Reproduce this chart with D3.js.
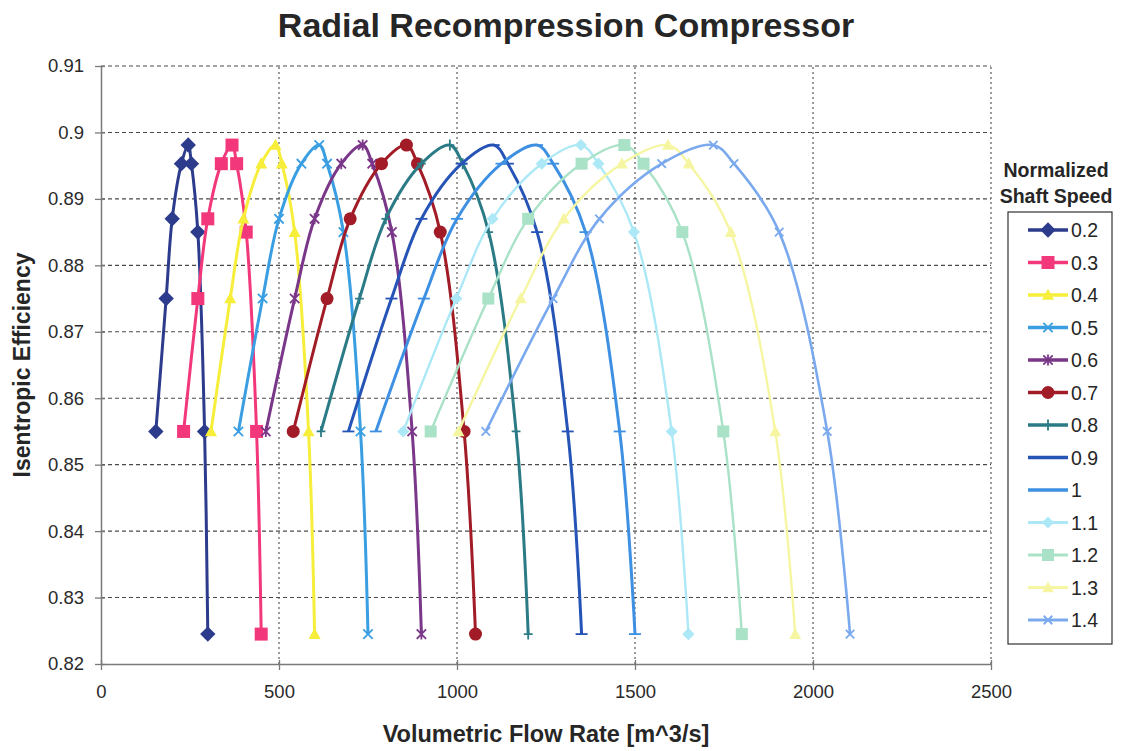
<!DOCTYPE html>
<html><head><meta charset="utf-8">
<script src="https://cdn.jsdelivr.net/npm/d3@7"></script>
<style>
body{margin:0;background:#fff}
svg{font-family:"Liberation Sans",Arial,Helvetica,sans-serif}
</style>
</head><body>
<svg id="chart" width="1122" height="751"></svg>
<script>
// ---------- data ----------
const speeds = ["0.2","0.3","0.4","0.5","0.6","0.7","0.8","0.9","1","1.1","1.2","1.3","1.4"];
const efficiency = [0.855, 0.875, 0.887, 0.8953, 0.8981, 0.8953, 0.885, 0.855, 0.8245];
const flow02 = [154, 183, 200, 226, 245, 254, 272, 291, 300];
const flow03 = [232, 272, 300, 338, 368, 381, 408, 437, 450];
const flow04 = [309, 363, 400, 450, 490, 508, 544, 583, 600];
const flow05 = [386, 454, 500, 563, 613, 635, 681, 729, 750];
const flow06 = [463, 544, 600, 675, 735, 762, 817, 874, 900];
const flow07 = [540, 635, 700, 788, 858, 889, 953, 1020, 1052];
const flow08 = [618, 726, 800, 900, 980, 1016, 1089, 1166, 1200];
const flow09 = [695, 816, 900, 1013, 1103, 1143, 1225, 1311, 1350];
const flow10 = [772, 907, 1000, 1125, 1225, 1270, 1361, 1457, 1500];
const flow11 = [849, 998, 1100, 1238, 1348, 1397, 1497, 1603, 1650];
const flow12 = [926, 1088, 1200, 1350, 1470, 1524, 1633, 1748, 1800];
const flow13 = [1004, 1179, 1300, 1463, 1593, 1651, 1769, 1894, 1950];
const flow14 = [1081, 1270, 1400, 1575, 1720, 1778, 1905, 2040, 2104];
const flows = [flow02, flow03, flow04, flow05, flow06, flow07, flow08, flow09, flow10, flow11, flow12, flow13, flow14];

const xTicks = [0, 500, 1000, 1500, 2000, 2500];
const xTickLabels = ["0", "500", "1000", "1500", "2000", "2500"];
const yTicks = [0.82, 0.83, 0.84, 0.85, 0.86, 0.87, 0.88, 0.89, 0.9, 0.91];
const yTickLabels = ["0.82", "0.83", "0.84", "0.85", "0.86", "0.87", "0.88", "0.89", "0.9", "0.91"];

// ---------- styles ----------
const colors = ["#2c3b8c", "#f2387a", "#f6ee3a", "#3a9ee2", "#7a3688", "#a11c26", "#2b7b86", "#2553b6",
                "#3d90e2", "#ace8f6", "#a9e2c6", "#f6f6a2", "#7aa9ee"];
const markers = ["diamond", "square", "triangle", "x", "asterisk", "circle", "plus", "dash",
                 "dash", "diamond", "square", "triangle", "x"];
const widths = [3, 3, 3, 3, 3, 3, 3, 3, 3, 2.4, 2.4, 2.4, 2.6];
const markerSize = [14, 13, 12, 11, 11, 13, 11, 12, 12, 11, 12, 12, 10];

const svg = d3.select("#chart");
const x = d3.scaleLinear().domain([0, 2500]).range([101, 991]);
const y = d3.scaleLinear().domain([0.82, 0.91]).range([664, 66]);

// gridlines
const grid = svg.append("g");
grid.selectAll("line.h").data(yTicks.slice(1)).join("line")
  .attr("x1", x(0)).attr("x2", x(2500)).attr("y1", d => y(d)).attr("y2", d => y(d))
  .attr("stroke", "#4a4a4a").attr("stroke-width", 1.1).attr("stroke-dasharray", "4,3");
grid.selectAll("line.v").data(xTicks.slice(1)).join("line")
  .attr("y1", y(0.82)).attr("y2", y(0.91)).attr("x1", d => x(d)).attr("x2", d => x(d))
  .attr("stroke", "#4a4a4a").attr("stroke-width", 1.1).attr("stroke-dasharray", "2,3");

// axes
const yAxis = svg.append("g").attr("transform", `translate(${x(0)},0)`)
  .call(d3.axisLeft(y).tickValues(yTicks).tickFormat((d, i) => yTickLabels[i]).tickSize(6).tickSizeOuter(0).tickPadding(11));
const xAxis = svg.append("g").attr("transform", `translate(0,${y(0.82)})`)
  .call(d3.axisBottom(x).tickValues(xTicks).tickFormat((d, i) => xTickLabels[i]).tickSize(6).tickSizeOuter(0).tickPadding(15));
yAxis.selectAll(".tick line").attr("x1", 4);
xAxis.selectAll(".tick line").attr("y1", -4);
[yAxis, xAxis].forEach(a => {
  a.select(".domain").attr("stroke", "#7a7a7a").attr("stroke-width", 1.5);
  a.selectAll(".tick line").attr("stroke", "#7a7a7a").attr("stroke-width", 1.3);
  a.selectAll(".tick text").attr("fill", "#2a2a2a").style("font-size", "18.5px")
    .style("font-family", '"Liberation Sans",Arial,sans-serif');
});

// marker drawing
function drawMarker(g, type, color, s) {
  const r = s / 2;
  if (type === "diamond") g.append("path").attr("d", `M0,${-r * 1.1}L${r * 1.1},0L0,${r * 1.1}L${-r * 1.1},0Z`).attr("fill", color);
  else if (type === "square") g.append("rect").attr("x", -r).attr("y", -r).attr("width", s).attr("height", s).attr("fill", color);
  else if (type === "triangle") g.append("path").attr("d", `M0,${-r * 1.05}L${r},${r * 0.8}L${-r},${r * 0.8}Z`).attr("fill", color);
  else if (type === "circle") g.append("circle").attr("r", r).attr("fill", color);
  else {
    let d = "";
    const q = r * 0.85;
    if (type === "x" || type === "asterisk") d += `M${-q},${-q}L${q},${q}M${-q},${q}L${q},${-q}`;
    if (type === "asterisk") d += `M0,${-r}L0,${r}`;
    if (type === "plus") d += `M${-r * 0.8},0L${r * 0.8},0M0,${-r}L0,${r}`;
    if (type === "dash") d += `M${-r},0L${r},0`;
    g.append("path").attr("d", d).attr("stroke", color).attr("stroke-width", 1.8).attr("fill", "none");
  }
}

// series
const line = d3.line().curve(d3.curveCatmullRom.alpha(0.5)).x(d => x(d[0])).y(d => y(d[1]));
const series = svg.append("g");
speeds.forEach((sp, i) => {
  const pts = flows[i].map((f, j) => [f, efficiency[j]]);
  const g = series.append("g");
  g.append("path").attr("d", line(pts)).attr("fill", "none")
    .attr("stroke", colors[i]).attr("stroke-width", widths[i]).attr("stroke-linejoin", "round");
  pts.forEach(p => {
    const m = g.append("g").attr("transform", `translate(${x(p[0])},${y(p[1])})`);
    drawMarker(m, markers[i], colors[i], markerSize[i]);
  });
});

// titles
svg.append("text").attr("x", 566).attr("y", 37).attr("text-anchor", "middle")
  .style("font-size", "34px").style("font-weight", "bold").attr("fill", "#262626")
  .text("Radial Recompression Compressor");
svg.append("text").attr("x", 546).attr("y", 742).attr("text-anchor", "middle")
  .style("font-size", "23.5px").style("font-weight", "bold").attr("fill", "#262626")
  .text("Volumetric Flow Rate [m^3/s]");
svg.append("text").attr("transform", "translate(30,365) rotate(-90)").attr("text-anchor", "middle")
  .style("font-size", "23px").style("font-weight", "bold").attr("fill", "#262626")
  .text("Isentropic Efficiency");

// legend
const lg = svg.append("g");
lg.append("text").attr("x", 1056).attr("y", 177).attr("text-anchor", "middle")
  .style("font-size", "19.5px").style("font-weight", "bold").attr("fill", "#262626").text("Normalized");
lg.append("text").attr("x", 1056).attr("y", 203).attr("text-anchor", "middle")
  .style("font-size", "19.5px").style("font-weight", "bold").attr("fill", "#262626").text("Shaft Speed");
lg.append("rect").attr("x", 1008).attr("y", 212).attr("width", 104).attr("height", 432)
  .attr("fill", "#fff").attr("stroke", "#333").attr("stroke-width", 1.2);
speeds.forEach((sp, i) => {
  const yy = 230 + i * 32.5;
  const e = lg.append("g");
  e.append("line").attr("x1", 1028).attr("x2", 1068).attr("y1", yy).attr("y2", yy)
    .attr("stroke", colors[i]).attr("stroke-width", widths[i] + 0.5);
  const m = e.append("g").attr("transform", `translate(1048,${yy})`);
  drawMarker(m, markers[i], colors[i], markerSize[i]);
  e.append("text").attr("x", 1071).attr("y", yy + 7).style("font-size", "19.5px")
    .attr("fill", "#262626").text(sp);
});
</script>
</body></html>
